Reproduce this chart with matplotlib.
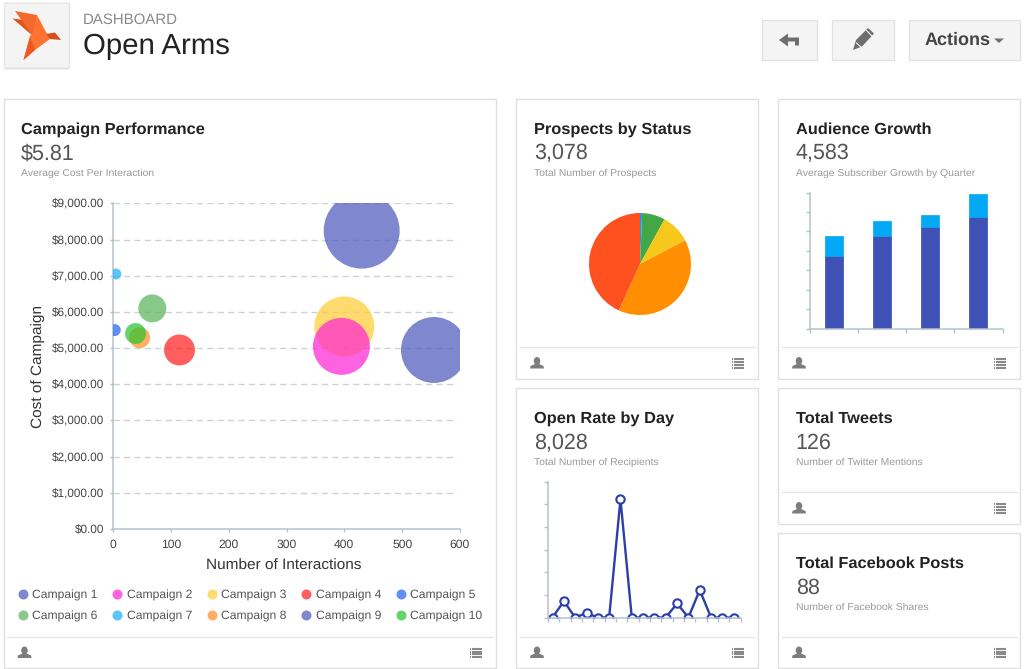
import matplotlib
matplotlib.use('Agg')
import matplotlib.pyplot as plt
import matplotlib.patches as patches
from matplotlib.ticker import FuncFormatter

W, H = 1024, 669

campaigns = ['Campaign 1', 'Campaign 2', 'Campaign 3', 'Campaign 4', 'Campaign 5',
             'Campaign 6', 'Campaign 7', 'Campaign 8', 'Campaign 9', 'Campaign 10']
interactions = [555, 395, 400, 115, 3, 68, 5, 46, 430, 39]
cost = [4950, 5050, 5600, 4950, 5500, 6100, 7050, 5290, 8250, 5405]
budget = [1089, 812, 900, 240, 36, 196, 30, 110, 1444, 110]
campaign_colors = ['#4e5abc', '#ff25d4', '#ffcd38', '#ff2121', '#2164f5',
                   '#5ab45d', '#1daffa', '#ff912a', '#4e5abc', '#2ac430']
draw_order = [0, 2, 1, 3, 4, 5, 6, 7, 8, 9]

status_counts = [21, 225, 287, 1215, 1330]
status_colors = ['#2196f3', '#43a747', '#f5c81b', '#ff8f00', '#ff5020']

quarters = [0, 1, 2, 3]
subs_base = [3757, 4750, 5230, 5730]
subs_new = [993, 808, 587, 1168]

open_rate = [0, 0.72, 0, 0.2, 0, 0, 5.22, 0, 0, 0, 0, 0.62, 0, 1.21, 0, 0, 0]

cards = [
    (3.5, 99, 496, 668, 637, 'Campaign Performance', '$5.81', 'Average Cost Per Interaction'),
    (516, 99, 758, 379, 347, 'Prospects by Status', '3,078', 'Total Number of Prospects'),
    (778, 99, 1020, 379, 347, 'Audience Growth', '4,583', 'Average Subscriber Growth by Quarter'),
    (516, 388, 758, 668, 637, 'Open Rate by Day', '8,028', 'Total Number of Recipients'),
    (778, 388, 1020, 524, 492, 'Total Tweets', '126', 'Number of Twitter Mentions'),
    (778, 533, 1020, 668, 637, 'Total Facebook Posts', '88', 'Number of Facebook Shares'),
]

plt.rcParams['font.family'] = ['Liberation Sans', 'DejaVu Sans']
plt.rcParams['text.hinting'] = 'no_hinting'
AXIS = '#b4c2cc'


def px_axes(fig, left, top, right, bottom):
    return fig.add_axes([left / W, 1 - bottom / H, (right - left) / W, (bottom - top) / H])


def person(ax, cx, cy):
    ax.add_patch(patches.Ellipse((cx, cy - 2.5), 6.5, 8, color='#7d7d7d', lw=0))
    ax.add_patch(patches.Polygon([(cx - 7, cy + 5), (cx - 6.5, cy + 2.5), (cx - 2, cy + 0.5), (cx + 2, cy + 0.5),
                                  (cx + 6.5, cy + 2.5), (cx + 7, cy + 5)], color='#7d7d7d', lw=0))


def list_icon(ax, cx, cy):
    for dy in (-4.2, -1.4, 1.4, 4.2):
        ax.plot([cx - 6, cx - 4.7], [cy + dy, cy + dy], color='#8a8a8a', lw=1.5, solid_capstyle='butt')
        ax.plot([cx - 3.7, cx + 6], [cy + dy, cy + dy], color='#8a8a8a', lw=1.5, solid_capstyle='butt')


def button(ax, x0, y0, x1, y1):
    ax.add_patch(patches.Rectangle((x0 + 0.5, y0 + 1), x1 - x0, y1 - y0, fc='#dddddd', ec='none'))
    ax.add_patch(patches.Rectangle((x0, y0), x1 - x0, y1 - y0, fc='#f4f4f4', ec='#e2e2e2', lw=0.9))


def plain_spines(axes):
    for side in ('top', 'right'):
        axes.spines[side].set_visible(False)
    for side in ('left', 'bottom'):
        axes.spines[side].set_color(AXIS)
        axes.spines[side].set_linewidth(1.1)


fig = plt.figure(figsize=(W / 100, H / 100), dpi=100, facecolor='white')

# page layer in pixel coordinates
bg = fig.add_axes([0, 0, 1, 1])
bg.set_xlim(0, W)
bg.set_ylim(H, 0)
bg.axis('off')

# logo tile and bird
bg.add_patch(patches.FancyBboxPatch((4.5, 4.5), 65, 65, boxstyle='round,pad=0,rounding_size=2',
                                    fc='#dedede', ec='none'))
bg.add_patch(patches.FancyBboxPatch((4.5, 3), 65, 65, boxstyle='round,pad=0,rounding_size=2',
                                    fc='#f4f4f4', ec='#e4e4e4', lw=0.9))
bg.add_patch(patches.Polygon([(12.5, 18.5), (24, 20), (33, 36)], color='#e2531c', lw=0))
bg.add_patch(patches.Polygon([(15, 11), (37, 15), (35, 30), (33, 36)], color='#f4692c', lw=0))
bg.add_patch(patches.Polygon([(37, 15), (46, 32), (50, 39), (35, 50), (23.5, 60), (30, 36), (33, 33)],
                             color='#ff7332', lw=0))
bg.add_patch(patches.Polygon([(30, 37), (35, 50), (23.5, 60)], color='#f0561f', lw=0))
bg.add_patch(patches.Polygon([(46, 34), (55, 32.5), (61, 40), (50, 39)], color='#d94d18', lw=0))

bg.text(83, 19.5, 'DASHBOARD', fontsize=10.8, color='#8a8a8a', va='center', ha='left')
bg.text(83, 46, 'Open Arms', fontsize=21.2, color='#222222', va='center', ha='left')

# header buttons
button(bg, 762, 19.5, 816.5, 60)
button(bg, 832, 19.5, 893.5, 60)
button(bg, 909, 19.5, 1020, 60)
bg.add_patch(patches.Polygon([(779, 40), (788, 33.5), (788, 37.5), (799, 37.5), (799, 45.5), (795, 45.5), (795, 41.5),
                              (788, 41.5), (788, 46.5)], color='#6e6e6e', lw=0))
bg.add_patch(patches.Polygon([(853, 50), (856, 40), (868, 28), (874, 33.5), (862, 46.5)], color='#6e6e6e', lw=0))
bg.plot([866.5, 872], [30.5, 36], color='#f4f4f4', lw=0.8)
bg.plot([856.5, 861], [43, 47], color='#f4f4f4', lw=0.8)
bg.text(925, 40, 'Actions', fontsize=13, fontweight='bold', color='#444444', va='center', ha='left')
bg.add_patch(patches.Polygon([(994, 38.5), (1004, 38.5), (999, 43)], color='#6e6e6e', lw=0))

# cards and their headings
for x0, y0, x1, y1, foot, title, number, note in cards:
    bg.add_patch(patches.Rectangle((x0, y0), x1 - x0, y1 - y0, fc='white', ec='#e0e0e0', lw=1))
    bg.plot([x0 + 3.5, x1 - 3.5], [foot, foot], color='#e8e8e8', lw=1)
    tx = x0 + 17.7
    bg.text(tx, y0 + 31, title, fontsize=11.8, fontweight='bold', color='#222222', va='center', ha='left')
    bg.text(tx, y0 + 55, number, fontsize=15.5, color='#555555', va='center', ha='left')
    bg.text(tx, y0 + 74.5, note, fontsize=7.5, color='#999999', va='center', ha='left')
    person(bg, x0 + 21, (foot + y1) / 2 + 0.5)
    list_icon(bg, x1 - 20, (foot + y1) / 2 + 0.5)

# bubble chart
ax = px_axes(fig, 113, 203.5, 460, 529)
ax.patch.set_alpha(0)
ax.scatter([interactions[i] for i in draw_order], [cost[i] for i in draw_order],
           s=[budget[i] * 2.07 for i in draw_order], c=[campaign_colors[i] for i in draw_order],
           alpha=0.72, linewidths=0, zorder=3)
ax.set_xlim(0, 600)
ax.set_ylim(0, 9000)
ax.set_xticks(range(0, 601, 100))
ax.set_yticks(range(0, 9001, 1000))
ax.yaxis.set_major_formatter(FuncFormatter(lambda v, p: '${:,.2f}'.format(v)))
ax.tick_params(axis='both', labelcolor='#444444', color=AXIS, length=2.5, width=1)
ax.tick_params(axis='x', labelsize=8.7, pad=5)
ax.tick_params(axis='y', labelsize=8.5, pad=4)
ax.hlines(range(1000, 9001, 1000), 0, 595, color='#c9d4da', lw=1, ls=(0, (4.5, 3)), zorder=1)
plain_spines(ax)
ax.set_xlabel('Number of Interactions', fontsize=11.1, color='#333333', labelpad=6, x=0.493)
ax.set_ylabel('Cost of Campaign', fontsize=11.1, color='#333333', labelpad=5)

# legend is two rows of five
for i, name in enumerate(campaigns):
    col, row = i % 5, i // 5
    lx = 23 + col * 94.4
    ly = 594.3 + row * 21
    bg.scatter([lx], [ly], s=52, color=campaign_colors[i], alpha=0.72, linewidths=0)
    bg.text(lx + 9.5, ly + 1, name, fontsize=8.7, color='#555555', va='center', ha='left')

# pie
pie_ax = px_axes(fig, 589, 213, 691, 315)
pie_ax.pie(status_counts, colors=status_colors, startangle=90, counterclock=False, radius=1,
           wedgeprops={'linewidth': 0})
pie_ax.set_xlim(-1, 1)
pie_ax.set_ylim(-1, 1)

# stacked bars
bar_ax = px_axes(fig, 810, 192.5, 1002.5, 328.5)
bar_ax.patch.set_alpha(0)
bar_ax.bar(quarters, subs_base, width=0.375, color='#3f51b5', edgecolor='#3349b8', linewidth=0.5)
bar_ax.bar(quarters, subs_new, bottom=subs_base, width=0.375, color='#03a9f4', edgecolor='#03a9f4', linewidth=0.5)
bar_ax.set_xlim(-0.5, 3.5)
bar_ax.set_ylim(0, 7000)
bar_ax.set_xticks([-0.5, 0.5, 1.5, 2.5, 3.5])
bar_ax.set_yticks(range(0, 7001, 1000))
bar_ax.tick_params(axis='both', labelleft=False, labelbottom=False, color=AXIS, length=3, width=1)
plain_spines(bar_ax)

# line with markers, clipped at the axis like the original
line_ax = px_axes(fig, 548, 481.5, 740.5, 617.5)
line_ax.patch.set_alpha(0)
line_ax.plot(range(len(open_rate)), open_rate, color='#2c3fa8', lw=1.7, marker='o', ms=6,
             mfc='white', mec='#2c3fa8', mew=1.5)
line_ax.set_xlim(-0.4, 16.6)
line_ax.set_ylim(0, 6)
line_ax.set_xticks([v - 0.4 for v in range(18)])
line_ax.set_yticks(range(7))
line_ax.tick_params(axis='both', labelleft=False, labelbottom=False, color=AXIS, length=3, width=1)
plain_spines(line_ax)

fig.savefig('out.png', dpi=100)
